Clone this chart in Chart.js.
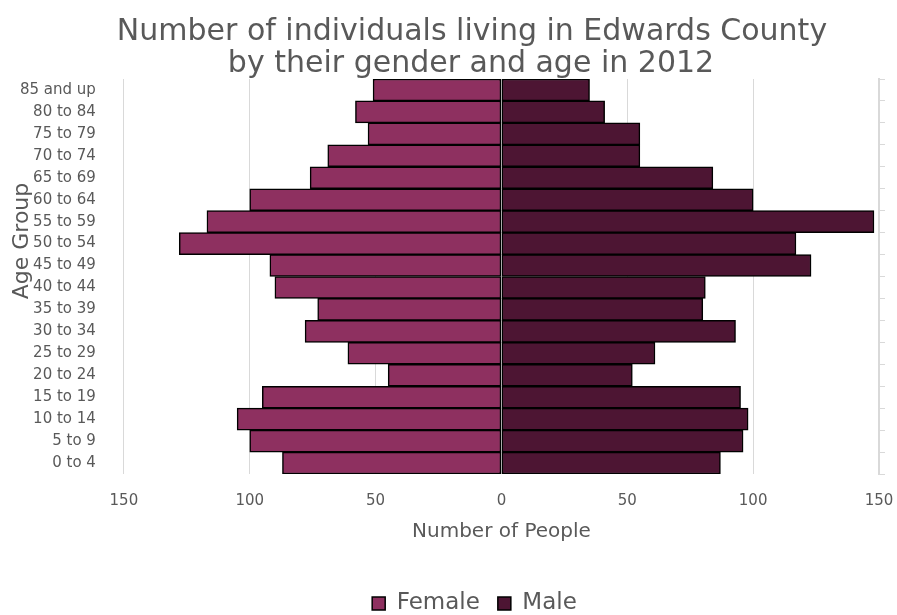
<!DOCTYPE html>
<html>
<head>
<meta charset="utf-8">
<script src="https://cdn.jsdelivr.net/npm/chart.js@4"></script>
<style>
  html, body { margin: 0; padding: 0; background: #fff; }
  #wrap { width: 897px; height: 615px; }
</style>
</head>
<body>
<div id="wrap"><canvas id="pyramid"></canvas></div>
<script>
// Age groups, bottom to top
const ageGroups = ['0 to 4', '5 to 9', '10 to 14', '15 to 19', '20 to 24', '25 to 29',
  '30 to 34', '35 to 39', '40 to 44', '45 to 49', '50 to 54', '55 to 59',
  '60 to 64', '65 to 69', '70 to 74', '75 to 79', '80 to 84', '85 and up'];

// Counts (same order as ageGroups)
const femaleCounts = [87, 100, 105, 95, 45, 61, 78, 73, 90, 92, 128, 117, 100, 76, 69, 53, 58, 51];
const maleCounts = [87, 96, 98, 95, 52, 61, 93, 80, 81, 123, 117, 148, 100, 84, 55, 55, 41, 35];

const xTicks = [-150, -100, -50, 0, 50, 100, 150];

const titleLines = ['Number of individuals living in Edwards County', 'by their gender and age in 2012'];

const fontName = "'DejaVu Sans', sans-serif";
const textGrey = '#595959';

// Title and y axis title are a little off-centre in the original, so draw them by hand
const textPlugin = {
  id: 'freeText',
  afterLayout(chart) {
    // legend sits right of centre as well
    chart.legend.left += 32;
    chart.legend.right += 32;
  },
  afterDraw(chart) {
    const c = chart.ctx;
    c.save();
    c.fillStyle = textGrey;
    c.textAlign = 'center';
    c.textBaseline = 'middle';
    c.font = `30px ${fontName}`;
    c.fillText(titleLines[0], 472, 32);
    c.fillText(titleLines[1], 471, 64);
    c.translate(22, 241);
    c.rotate(-Math.PI / 2);
    c.font = `22px ${fontName}`;
    c.fillText('Age Group', 0, 0);
    c.restore();
  }
};

function initChart() {
  const ctx = document.getElementById('pyramid').getContext('2d');
  new Chart(ctx, {
    type: 'bar',
    data: {
      labels: ageGroups,
      datasets: [{
        label: 'Female',
        data: femaleCounts.map(v => -v), // left side of the pyramid
        backgroundColor: '#8e3060',
        borderColor: '#000',
        borderWidth: 1.5,
        borderSkipped: false,
        barPercentage: 1,
        categoryPercentage: 1
      }, {
        label: 'Male',
        data: maleCounts,
        backgroundColor: '#4d1533',
        borderColor: '#000',
        borderWidth: 1.5,
        borderSkipped: false,
        barPercentage: 1,
        categoryPercentage: 1
      }]
    },
    plugins: [textPlugin],
    options: {
      indexAxis: 'y',
      responsive: true,
      maintainAspectRatio: false,
      animation: false,
      layout: { padding: { left: 0, right: 12, top: 79, bottom: -10 } },
      plugins: {
        title: { display: false },
        legend: {
          position: 'bottom',
          labels: {
            color: textGrey,
            font: { family: fontName, size: 23 },
            boxWidth: 13,
            boxHeight: 13,
            padding: 18
          }
        },
        tooltip: {
          callbacks: {
            label: item => `${item.dataset.label}: ${Math.abs(item.raw)}`
          }
        }
      },
      scales: {
        x: {
          stacked: true,
          min: -150,
          max: 150,
          afterBuildTicks: axis => { axis.ticks = xTicks.map(v => ({ value: v })); },
          afterFit: axis => { axis.paddingLeft = 0; axis.paddingRight = 0; },
          grid: { color: '#d9d9d9', lineWidth: 1, drawTicks: false },
          border: { display: false },
          ticks: {
            color: textGrey,
            font: { family: fontName, size: 15 },
            padding: 18,
            callback: v => Math.abs(v)
          },
          title: {
            display: true,
            text: 'Number of People',
            color: textGrey,
            font: { family: fontName, size: 20 },
            padding: { top: -8, bottom: 30 }
          }
        },
        y: {
          stacked: true,
          reverse: true,
          grid: { display: false },
          border: { display: false },
          ticks: {
            color: textGrey,
            font: { family: fontName, size: 15 },
            padding: 20,
            autoSkip: false
          }
        },
        y2: {
          type: 'category',
          position: 'right',
          reverse: true,
          grid: { drawOnChartArea: false, color: '#d9d9d9', tickLength: 6 },
          border: { color: '#d9d9d9', width: 2 },
          ticks: { display: false }
        }
      }
    }
  });
}

document.addEventListener('DOMContentLoaded', initChart);
</script>
</body>
</html>
